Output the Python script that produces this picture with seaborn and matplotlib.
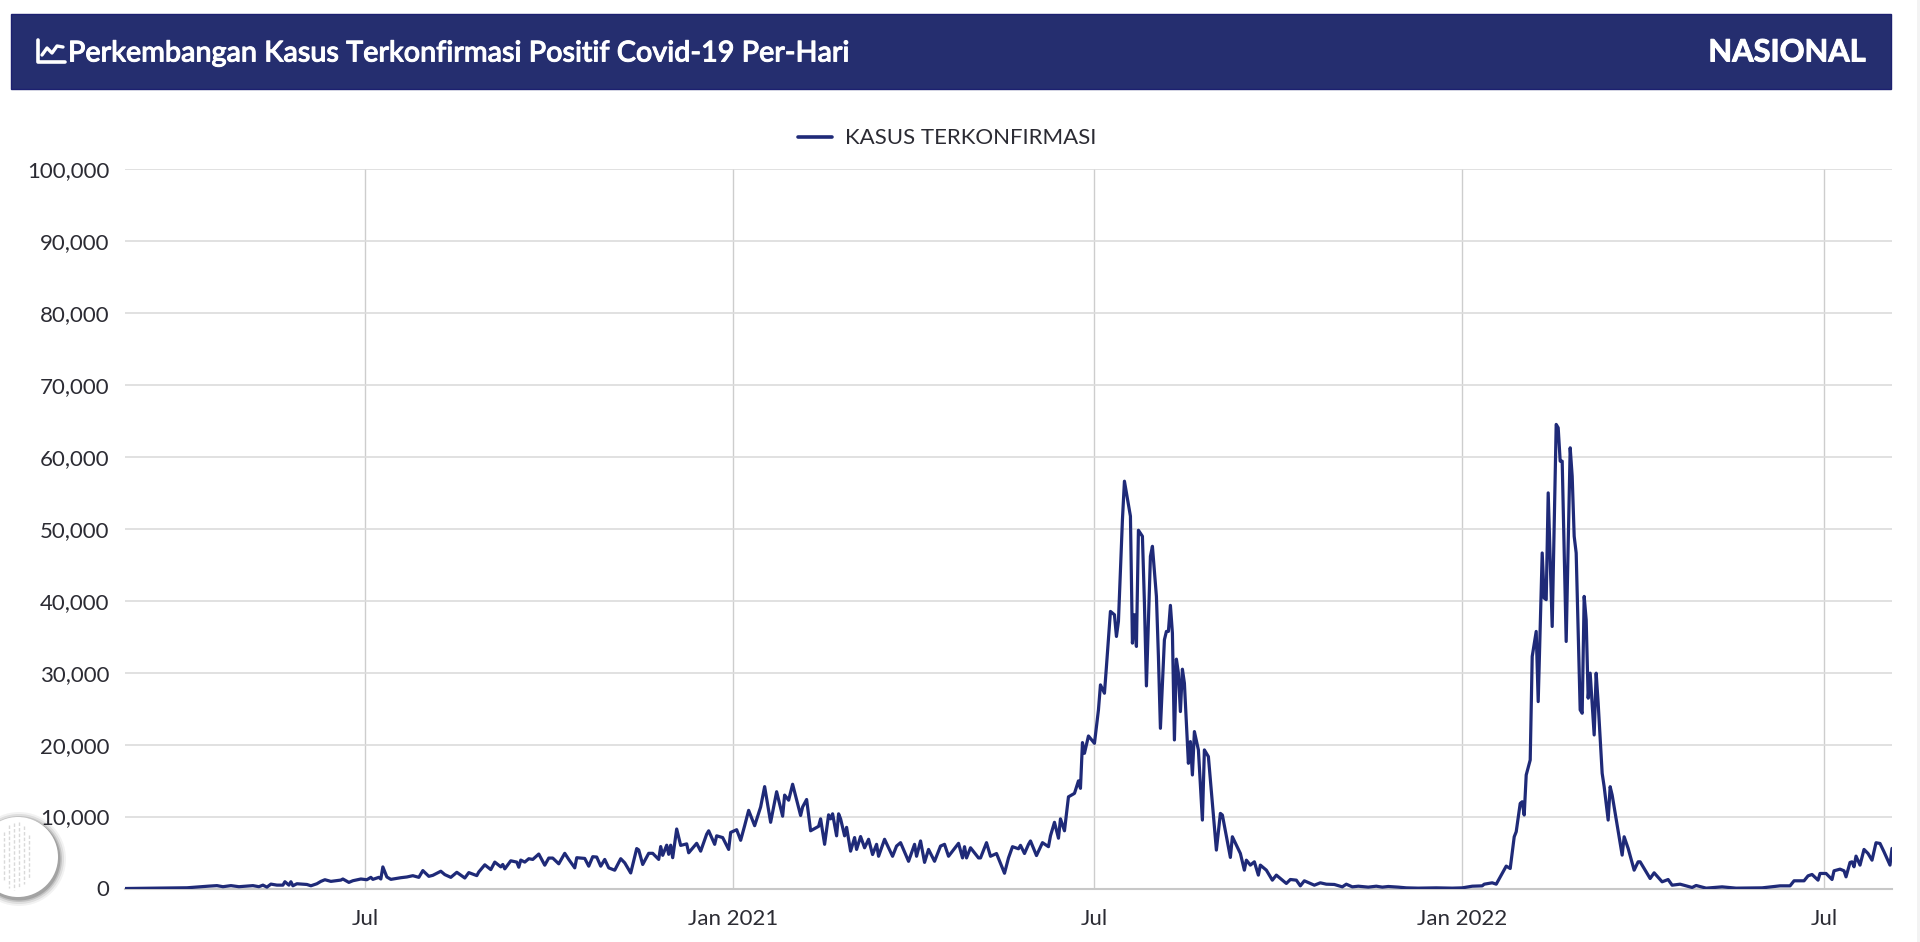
import numpy as np
import pandas as pd
import matplotlib
matplotlib.use("Agg")
import matplotlib.pyplot as plt
import matplotlib.patheffects as pe
from matplotlib.lines import Line2D
from matplotlib.patches import Circle, Rectangle
from matplotlib.transforms import Affine2D
import seaborn as sns

TITLE = "Perkembangan Kasus Terkonfirmasi Positif Covid-19 Per-Hari"
SCOPE = "NASIONAL"
SERIES = "KASUS TERKONFIRMASI"
START = "2020-03-03"
END = "2022-08-04"
tick_dates = ["2020-07-01", "2021-01-01", "2021-07-01", "2022-01-01", "2022-07-01"]
tick_labels = ["Jul", "Jan 2021", "Jul", "Jan 2022", "Jul"]
y_ticks = list(range(0, 100001, 10000))

# Days after START, with the daily confirmed cases
days_2020a = [0,14,31,37,42,46,49,53,57,61,64,67,69,71,73,76,79,80,82,83,84,86,91,93,96,98,100,103,108,109,112,114,118,121,123,124,127,128,129,131,133,138,141,144,147,149,152,154,158,160,163,166]
cases_2020a = [0,40,100,230,330,400,250,400,250,330,400,250,470,190,610,470,470,940,470,940,380,660,560,380,660,990,1220,990,1170,1320,850,1080,1320,1220,1550,1270,1550,1320,3000,1600,1270,1500,1600,1780,1550,2490,1690,1830,2400,1930,1550,2250]

days_2020b = [170,172,176,177,180,183,185,188,189,190,193,196,197,198,200,202,204,207,210,212,214,217,220,222,225,226,230,232,234,236,238,240,242,245,248,250,253,256,257,259,262,264,267,268,269,271,272,273,274,276,278,281,282,286,288,291,292,295,296,299,302]
cases_2020b = [1460,2210,1790,2300,3290,2630,3670,3010,3340,2730,3850,3670,2960,3950,3670,4140,4040,4790,3240,4230,4230,3430,4890,4040,2870,4280,4180,3100,4420,4370,3100,4040,2870,2540,4140,3570,2160,5550,5360,3340,4890,4890,4040,5830,4610,6020,4750,6020,4280,8270,5990,6200,4960,6280,5190,7550,8020,6140,7320,7080,5430]

days_2021a = [303,306,308,310,312,315,318,320,323,326,329,330,332,334,338,339,341,343,347,348,350,352,353,354,356,357,358,360,361,363,365,366,368,370,372,374,376,377,380,384,386,388,392,395,396,398,400,402,405,408,410,412,417,419,420,421,423,427,428,431,433,436,440,442,444,447,448,450,452,453,456,459,462,463,465,467,468,470,472,475,477,478]
cases_2021a = [7790,8170,6700,8730,10860,8730,11330,14160,9200,13450,10050,12980,12270,14490,10150,11330,12370,8020,8640,9680,6140,10240,9680,10380,7320,10380,9680,7320,8500,5190,7080,5430,7220,5660,6840,4720,6140,4480,6840,4480,5900,6370,3780,6140,4480,6610,3630,5430,3780,5900,6140,4480,6280,4250,5810,4250,5660,4250,4250,6370,4480,4860,2120,4250,5810,5520,6000,4860,6140,6610,4580,6370,5810,7320,9200,6990,9680,8020,12740,13220,14960,13920]

days_2021b = [479,480,482,485,487,488,490,491,493,495,496,497,499,500,503,504,505,506,507,509,510,511,513,514,516,517,518,520,521,522,523,524,525,526,527,528,529,530,532,533,534,535,537,539,540,542,544,546,548,549,553,554,558,560,561,563,565,567,568,571,574,576,581,583,586,588,590,595,598]
cases_2021b = [20280,18790,21200,20180,24820,28300,27140,30860,38510,38050,35030,37120,51270,56610,51740,34100,38050,33640,49790,48950,39670,28160,46170,47560,40600,32250,22270,34570,35730,35730,39350,35500,20650,31880,29930,24590,30480,28540,17400,20420,15780,21810,19260,9510,19260,18330,11830,5340,10440,10210,4320,7190,4870,2550,3940,3250,3710,1860,3250,2550,1160,1860,700,1250,1160,370,1070,460,790]

days_lull = [601,605,609,611,614,617,622,626,629,632,637,641,647,656,664,669,674,679]
cases_lull = [600,560,230,600,230,320,190,320,190,280,190,90,50,90,50,90,320,370]

days_2022a = [680,684,686,691,693,695,696,698,699,700,701,703,704,706,707,709,710,711,712,714,716,717,718,719,721,723,724,725,726,728,729,730,731,732,733,735,736,737,739,740,742,743,744,749,750,752,755,757,758,763,765,769,772,774,778,784,786,791,799,806,819,828]
cases_2022a = [600,790,600,3110,2780,7190,7890,11830,12060,10210,15780,17860,32250,35730,25980,46630,40370,40140,54980,36420,64500,64030,59390,59390,34340,61250,57300,48950,46630,24820,24360,40600,37350,26450,29930,21340,29930,25750,16010,14150,9510,14150,12990,4640,7190,5570,2550,3710,3710,1390,2180,930,1250,460,600,140,420,50,230,50,90,370]

days_2022b = [833,835,840,842,844,847,848,851,854,855,858,860,861,863,864,865,866,868,870,872,874,876,878,880,883,884]
cases_2022b = [370,1070,1070,1760,1950,1160,2090,2090,1250,2460,2690,2460,1620,3620,3710,3020,4500,3250,5430,4870,3940,6360,6260,5100,3250,5570]

day_groups = [days_2020a, days_2020b, days_2021a, days_2021b, days_lull, days_2022a, days_2022b]
case_groups = [cases_2020a, cases_2020b, cases_2021a, cases_2021b, cases_lull, cases_2022a, cases_2022b]

all_days = [d for g in day_groups for d in g]
all_cases = [c for g in case_groups for c in g]
df = pd.DataFrame({
    "tanggal": pd.Timestamp(START) + pd.to_timedelta(all_days, unit="D"),
    "kasus": all_cases,
})

NAVY = "#252e6f"
LINE = "#1f2a78"
TEXT = "#2b2b33"
W, H = 1920, 942

sns.set_theme(style="whitegrid")
plt.rcParams["font.family"] = ["Lato", "DejaVu Sans"]

fig = plt.figure(figsize=(W / 100, H / 100), dpi=100, facecolor="white")
ax = fig.add_axes([125 / W, (H - 888.5) / H, (1892 - 125) / W, (888.5 - 169) / H])

sns.lineplot(data=df, x="tanggal", y="kasus", color=LINE, linewidth=2.3,
             label=SERIES, ax=ax, legend=False, zorder=3)

ax.set_xlim(pd.Timestamp(START), pd.Timestamp(END))
ax.set_ylim(0, 100000)
ax.set_xticks(pd.to_datetime(tick_dates))
ax.set_xticklabels(tick_labels)
ax.set_yticks(y_ticks)
ax.set_yticklabels([f"{v:,}" for v in y_ticks])
ax.set_xlabel("")
ax.set_ylabel("")
ax.grid(True, axis="y", color="#dcdcdc", linewidth=1.2)
ax.grid(True, axis="x", color="#cdcdcd", linewidth=1.0)
ax.set_axisbelow(True)
for name, sp in ax.spines.items():
    sp.set_visible(name == "bottom")
ax.spines["bottom"].set_color("#c8c8c8")
ax.spines["bottom"].set_linewidth(1.5)
ax.tick_params(axis="both", length=0, labelsize=16, labelcolor=TEXT)
ax.tick_params(axis="x", pad=15)
ax.tick_params(axis="y", pad=11)

fig.legend(handles=[Line2D([], [], color=LINE, linewidth=2.6, label=SERIES)],
           loc="center", bbox_to_anchor=(947 / W, 1 - 138.5 / H), frameon=False,
           fontsize=16, labelcolor=TEXT, handlelength=1.55, handletextpad=0.55)

px = Affine2D().scale(1, -1).translate(0, H)  # pixel coordinates, y down

# Header band
fig.add_artist(Rectangle((10.5, 13.5), 1880.5, 75.5, transform=px, facecolor=NAVY,
                         edgecolor="#1c2070", linewidth=1))
bold = [pe.withStroke(linewidth=0.7, foreground="white")]
fig.text(68 / W, 1 - 53.5 / H, TITLE, color="white", fontsize=20.7, fontweight="medium",
         va="center", ha="left", path_effects=bold)
fig.text(1866 / W, 1 - 52.5 / H, SCOPE, color="white", fontsize=22.2, fontweight="bold",
         va="center", ha="right", path_effects=bold)

# Chart-line icon in the header
fig.add_artist(Line2D([38, 38, 65], [40, 62, 62], transform=px, color="white", linewidth=2.6))
fig.add_artist(Line2D([42, 47, 52, 57, 63], [55, 48, 53, 46, 47], transform=px, color="white",
                      linewidth=2.4))

# Round fingerprint badge, bottom left
for off, alpha in [(7, .05), (5, .08), (3, .12), (1.5, .16)]:
    fig.add_artist(Circle((18 + 1, 857 + 2), 40 + off, transform=px, facecolor="black",
                          edgecolor="none", alpha=alpha, zorder=5))
fig.add_artist(Circle((18, 857), 40, transform=px, facecolor="white", edgecolor="none", zorder=6))
for lx, top, bot in [(4, 832, 882), (9, 825, 888), (14, 823, 890), (19, 822, 888), (24, 826, 884), (29, 835, 878)]:
    fig.add_artist(Line2D([lx, lx], [top, bot], transform=px, color="#d9d9d9", linewidth=1.0,
                          linestyle=(0, (2.5, 1.5)), zorder=7))

# Scrollbar edge of the page
fig.add_artist(Rectangle((1917, 0), 3, H, transform=px, facecolor="#f3f3f3", edgecolor="none"))

fig.savefig("out.png", dpi=100, facecolor="white")
